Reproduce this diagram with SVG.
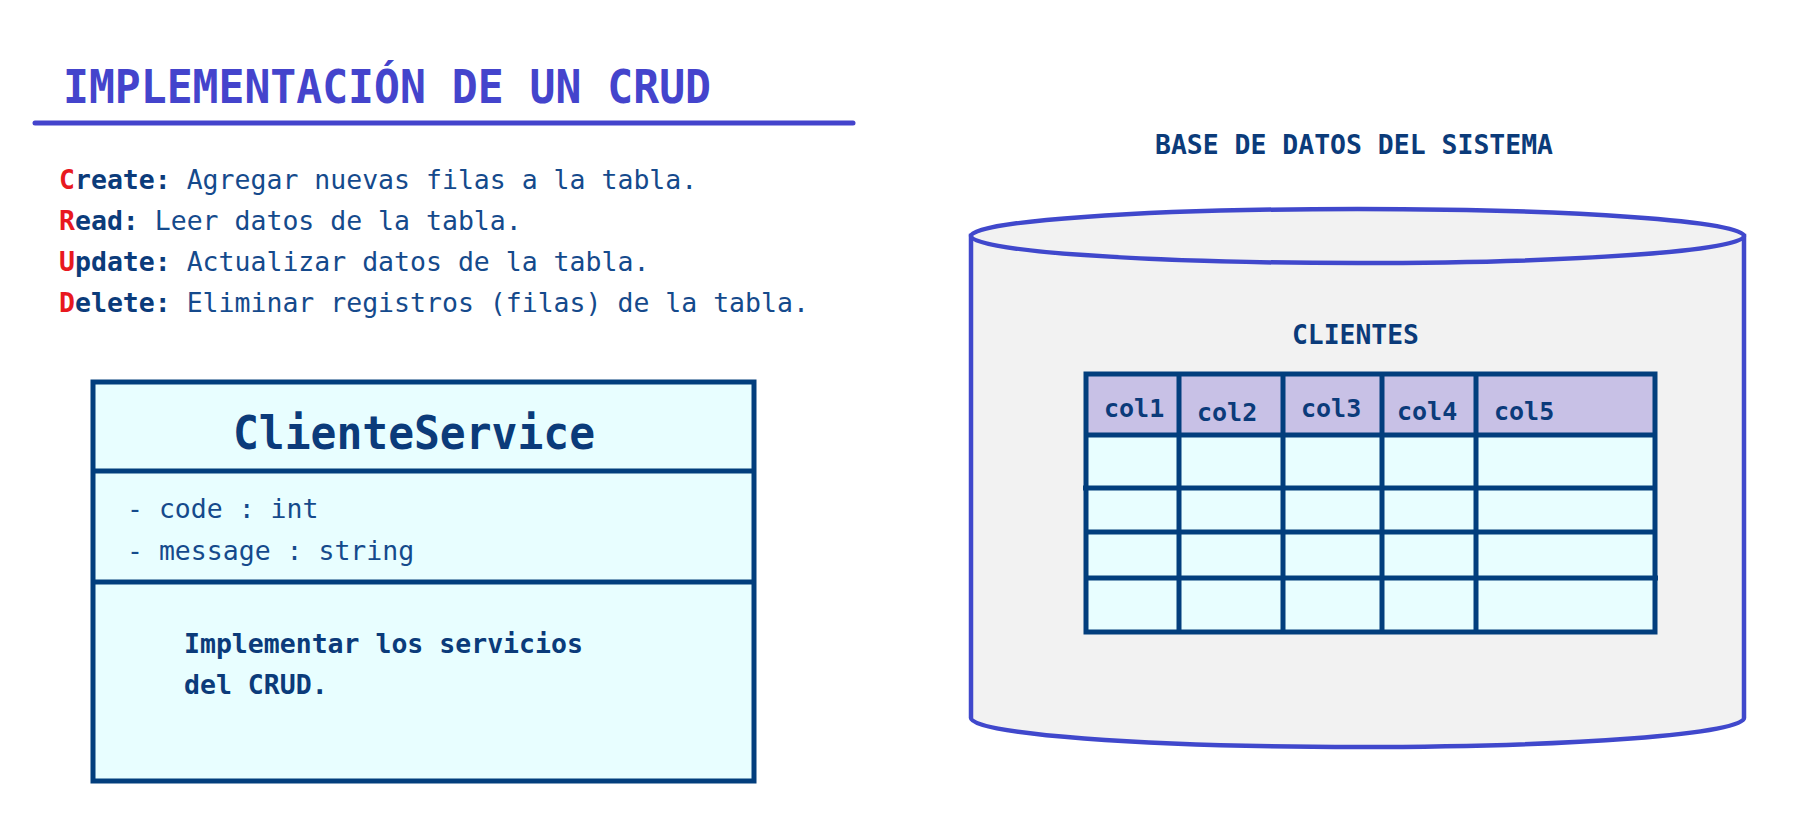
<svg xmlns="http://www.w3.org/2000/svg" width="1799" height="821" viewBox="0 0 1799 821">
<style>
text{font-family:"DejaVu Sans Mono","Liberation Mono",monospace}
.navy{fill:#0b3b7a}
.reg{fill:#154a8c}
.b{font-weight:bold}
.red{fill:#e8191f}
.grid{stroke:#023e7d;stroke-width:5;fill:none}
.cyl{stroke:#4048cc;stroke-width:4.5;fill:#f2f2f2}
</style>
<rect width="1799" height="821" fill="#ffffff"/>
<g id="title">
<text x="63" y="103" font-size="46" font-weight="bold" fill="#4444cc" textLength="648" lengthAdjust="spacingAndGlyphs">IMPLEMENTACIÓN DE UN CRUD</text>
<line x1="35" y1="123" x2="853" y2="123" stroke="#4444cc" stroke-width="5" stroke-linecap="round"/>
</g>
<g id="crud-list" font-size="26.5">
<text x="59" y="189"><tspan class="red b">C</tspan><tspan class="navy b">reate:</tspan><tspan class="reg"> Agregar nuevas filas a la tabla.</tspan></text>
<text x="59" y="230"><tspan class="red b">R</tspan><tspan class="navy b">ead:</tspan><tspan class="reg"> Leer datos de la tabla.</tspan></text>
<text x="59" y="271"><tspan class="red b">U</tspan><tspan class="navy b">pdate:</tspan><tspan class="reg"> Actualizar datos de la tabla.</tspan></text>
<text x="59" y="312"><tspan class="red b">D</tspan><tspan class="navy b">elete:</tspan><tspan class="reg"> Eliminar registros (filas) de la tabla.</tspan></text>
</g>
<g id="cliente-service">
<rect x="93" y="382" width="661" height="399" fill="#e8feff" stroke="#023e7d" stroke-width="5"/>
<line x1="93" y1="471" x2="754" y2="471" stroke="#023e7d" stroke-width="5"/>
<line x1="93" y1="582" x2="754" y2="582" stroke="#023e7d" stroke-width="5"/>
<text x="233" y="449" font-size="46" class="navy b" textLength="362" lengthAdjust="spacingAndGlyphs">ClienteService</text>
<text x="127" y="518" font-size="26.5" class="reg">- code : int</text>
<text x="127" y="560" font-size="26.5" class="reg">- message : string</text>
<text x="184" y="653" font-size="26.5" class="navy b">Implementar los servicios</text>
<text x="184" y="694" font-size="26.5" class="navy b">del CRUD.</text>
</g>
<g id="database">
<text x="1155" y="154" font-size="26" class="navy b" textLength="398" lengthAdjust="spacingAndGlyphs">BASE DE DATOS DEL SISTEMA</text>
<path class="cyl" d="M971,236 L971,718 A386.5,29 0 0 0 1744,718 L1744,236 Z"/>
<ellipse class="cyl" cx="1357.5" cy="236" rx="386.5" ry="27"/>
</g>
<g id="clientes-table">
<text x="1292" y="344" font-size="26" class="navy b" textLength="127" lengthAdjust="spacingAndGlyphs">CLIENTES</text>
<rect x="1086" y="374" width="569" height="61" fill="#c8c1e6"/>
<rect x="1086" y="435" width="569" height="197" fill="#e8feff"/>
<g class="grid">
<rect x="1086" y="374" width="569" height="258"/>
<line x1="1086" y1="435" x2="1655" y2="435"/>
<line x1="1083" y1="488" x2="1655" y2="488"/>
<line x1="1086" y1="532" x2="1655" y2="532"/>
<line x1="1086" y1="578" x2="1658" y2="578"/>
<line x1="1179" y1="374" x2="1179" y2="632"/>
<line x1="1283" y1="374" x2="1283" y2="632"/>
<line x1="1382" y1="374" x2="1382" y2="632"/>
<line x1="1476" y1="374" x2="1476" y2="632"/>
</g>
<g font-size="25" class="navy b">
<text x="1104" y="417">col1</text>
<text x="1197" y="421">col2</text>
<text x="1301" y="417">col3</text>
<text x="1397" y="420">col4</text>
<text x="1494" y="420">col5</text>
</g>
</g>
</svg>
